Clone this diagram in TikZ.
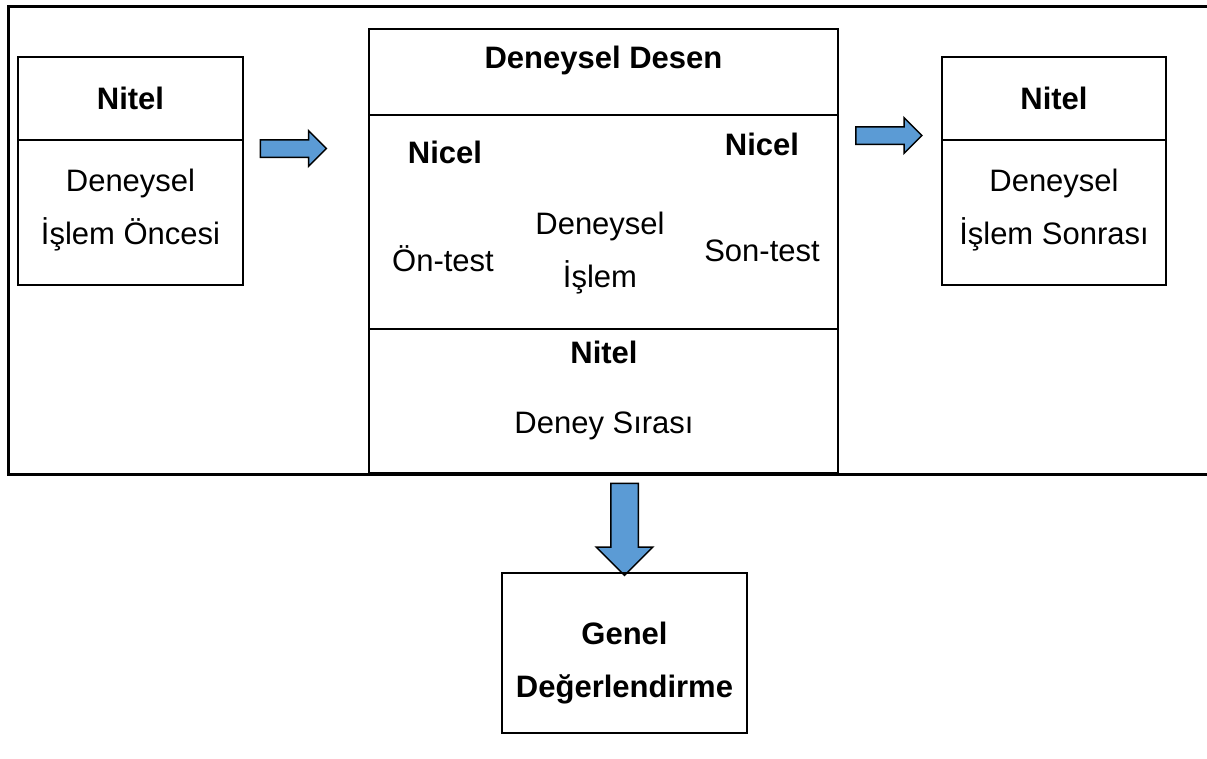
\documentclass[tikz,border=0pt]{standalone}
\usepackage{fontspec}
\setmainfont{Liberation Sans}
\usepackage{xcolor}
\definecolor{flowblue}{RGB}{91,155,213}
\usetikzlibrary{
  positioning,
  shapes.arrows
}
\tikzset{
  cell/.style={draw, line width=2pt, inner sep=0pt, outer sep=0pt},
  plain/.style={font=\fontsize{31}{53}\selectfont, align=center,
    inner sep=0pt},
  heading/.style={font=\fontsize{31}{53}\selectfont\bfseries, align=center,
    inner sep=0pt},
  flowarr/.style={single arrow, draw=black, line width=1.5pt, fill=flowblue,
    single arrow tip angle=90},
}

\begin{document}
\begin{tikzpicture}[x=1pt, y=-1pt]
  \useasboundingbox (0,0) rectangle (1207,758);

  % Outer frame
  \node[draw, line width=2.5pt, minimum width=1230pt, minimum height=468pt,
        inner sep=0pt, anchor=north west] (frame) at (7,5) {};

  % Before the experiment
  \node[cell, anchor=north west, minimum width=225pt, minimum height=83pt] (preHead) at (18,57) {};
  \node[cell, minimum width=225pt, minimum height=145pt, below=0pt of preHead] (preBody) {};
  \node[heading] (preTitle) at (preHead.center) {Nitel};
  \node[plain] (preText) at ([yshift=2pt]preBody.center) {Deneysel\\İşlem Öncesi};

  % Experimental design
  \node[cell, anchor=north west, minimum width=469pt, minimum height=86pt] (designHead) at (369,29) {};
  \node[cell, minimum width=469pt, minimum height=214pt, below=0pt of designHead] (designMid) {};
  \node[cell, minimum width=469pt, minimum height=144pt, below=0pt of designMid] (designFoot) {};
  \node[heading] (designTitle) at (603.5,60) {Deneysel Desen};
  \node[heading] (preQuant) at (445,152) {Nicel};
  \node[heading] (postQuant) at (762,144) {Nicel};
  \node[plain] (pretest) at (443,259) {Ön-test};
  \node[plain] (treatment) at (600,253) {Deneysel\\İşlem};
  \node[plain] (posttest) at (762,251) {Son-test};
  \node[heading] (footTitle) at (604,352) {Nitel};
  \node[plain] (footText) at (604,426) {Deney Sırası};

  % After the experiment
  \node[cell, anchor=north west, minimum width=224pt, minimum height=83pt] (postHead) at (942,57) {};
  \node[cell, minimum width=224pt, minimum height=145pt, below=0pt of postHead] (postBody) {};
  \node[heading] (postTitle) at (postHead.center) {Nitel};
  \node[plain] (postText) at ([yshift=2pt]postBody.center) {Deneysel\\İşlem Sonrası};

  % Block arrows
  \foreach \name/\pos in {toDesign/{(289,148.5)}, toPost/{(884.5,135.5)}} {
    \node[flowarr, minimum height=66pt, inner xsep=0pt, inner ysep=8pt,
          single arrow head extend=9pt] (\name) at \pos {};
  }
  \node[flowarr, minimum height=92pt, inner xsep=13pt, inner ysep=0pt,
        single arrow head extend=14.5pt, shape border rotate=270] (toEval) at (624.5,522.5) {};

  % Overall evaluation
  \node[draw, line width=1.5pt, inner sep=0pt, minimum width=245pt,
        minimum height=160pt] (eval) at (624.5,653) {};
  \node[heading] (evalText) at ([yshift=-10pt]eval.center) {Genel\\Değerlendirme};
\end{tikzpicture}
\end{document}
